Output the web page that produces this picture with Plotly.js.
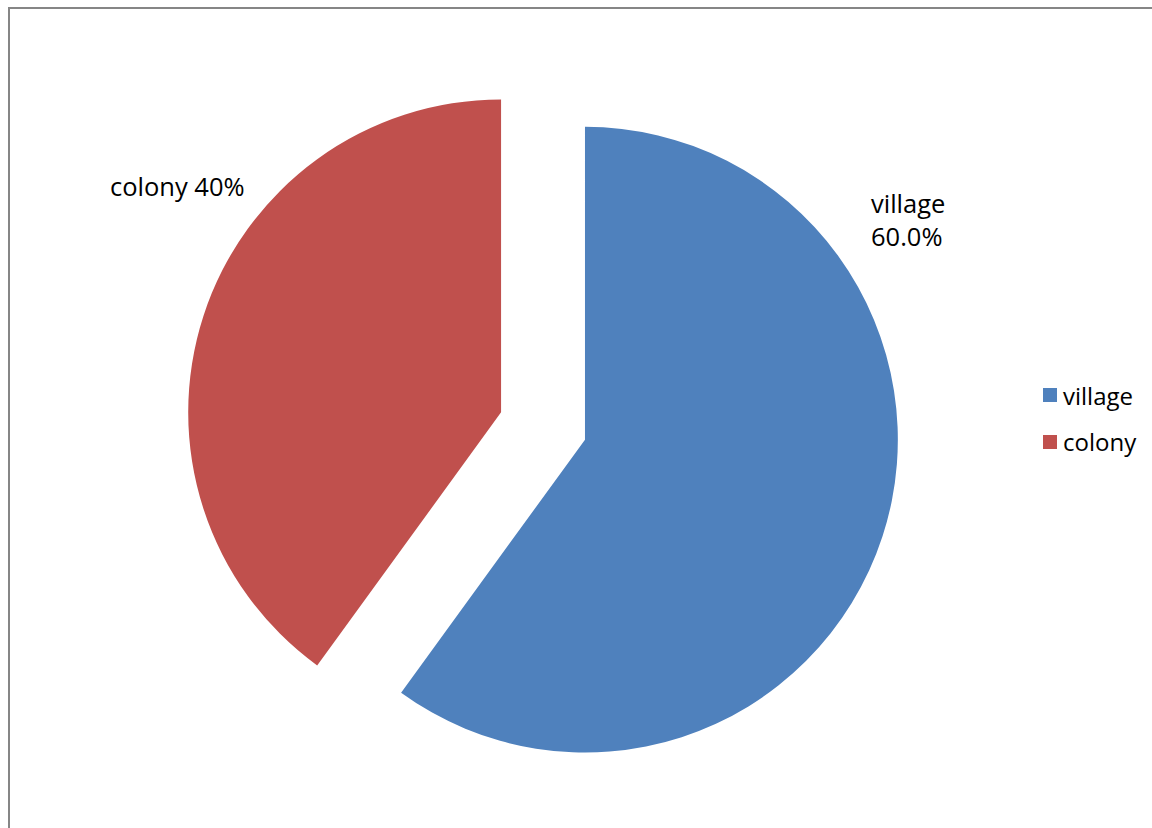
<!DOCTYPE html>
<html>
<head>
<meta charset="utf-8">
<script src="https://cdn.plot.ly/plotly-3.0.1.min.js"></script>
<style>
  html, body { margin: 0; padding: 0; background: #fff; }
  #chart { position: absolute; left: 0; top: 0; width: 1152px; height: 828px; }
  #frame { position: absolute; left: 8px; top: 7px; width: 1200px; height: 900px;
           border-left: 2px solid #868686; border-top: 2px solid #868686; pointer-events: none; }
</style>
</head>
<body>
<div id="chart"></div>
<div id="frame"></div>
<script>
const categories = ["village", "colony"];
const values = [60, 40];
const sliceLabels = ["village<br>60.0%", "colony 40%"];
const colors = ["#4F81BD", "#C0504D"];

const FONT = "'Open Sans', Lato, Arial, sans-serif";

// paper-coordinate helpers (plot area: x spans full width, y from 69px to 783px)
const W = 1152, TOP = 69, BOT = 783;
const px = v => v / W;
const py = v => (BOT - v) / (BOT - TOP);

const trace = {
  type: "pie",
  labels: categories,
  values: values,
  sort: false,
  direction: "clockwise",
  rotation: 0,
  pull: [0.141, 0.141],
  marker: { colors: colors, line: { width: 0 } },
  textinfo: "none",
  hoverinfo: "label+percent",
  showlegend: false,
  domain: { x: [0.1615, 0.78125], y: [0, 1] }
};

// legend drawn as squares + text, from categories and colors
const legendY = [395, 442];
const legendShapes = categories.map((c, i) => ({
  type: "rect", xref: "paper", yref: "paper",
  x0: px(1043), x1: px(1057), y0: py(legendY[i] + 7), y1: py(legendY[i] - 7),
  fillcolor: colors[i], line: { width: 0 }
}));
const legendTexts = categories.map((c, i) => ({
  text: c, xref: "paper", yref: "paper", x: px(1061), y: py(legendY[i]),
  xanchor: "left", yanchor: "middle", showarrow: false,
  font: { family: FONT, size: 24, color: "#000" }
}));

const layout = {
  width: 1152,
  height: 828,
  margin: { l: 0, r: 0, t: TOP, b: 828 - BOT },
  paper_bgcolor: "#ffffff",
  plot_bgcolor: "#ffffff",
  font: { family: FONT, size: 24, color: "#000" },
  showlegend: false,
  shapes: legendShapes,
  annotations: [
    { text: sliceLabels[0], xref: "paper", yref: "paper", x: px(869), y: py(219),
      xanchor: "left", yanchor: "middle", align: "left", showarrow: false,
      font: { family: FONT, size: 25.5, color: "#000" } },
    { text: sliceLabels[1], xref: "paper", yref: "paper", x: px(108), y: py(186),
      xanchor: "left", yanchor: "middle", align: "left", showarrow: false,
      font: { family: FONT, size: 25.5, color: "#000" } }
  ].concat(legendTexts)
};

Plotly.newPlot("chart", [trace], layout, { displayModeBar: false, staticPlot: true });
</script>
</body>
</html>
